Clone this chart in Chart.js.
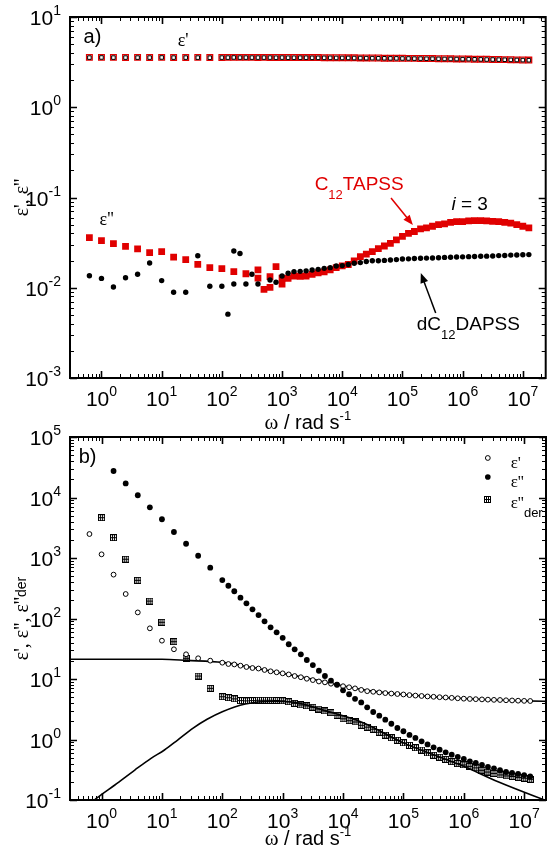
<!DOCTYPE html>
<html lang="en">

<head>
    <meta charset="UTF-8">
    <title>Dielectric spectra, C12TAPSS and dC12DAPSS</title>
    <script src="https://cdn.jsdelivr.net/npm/chart.js@4.4.0/dist/chart.umd.min.js"></script>
    <style>
        body { margin: 0; background: #fff; }
        #wrap { position: relative; width: 551px; height: 852px; }
        canvas { position: absolute; left: 0; top: 0; }
    </style>
</head>

<body>
    <div id="wrap">
        <canvas id="chartA" width="551" height="852"></canvas>
        <canvas id="chartB" width="551" height="852"></canvas>
    </div>

    <script>
        // Frequency grid in rad/s: sparse below 100, ten points per decade above.
        var omegaLow = [0.63, 1.0, 1.58, 2.51, 3.98, 6.31, 10, 15.8, 25.1, 39.8, 63.1, 100];
        var omegaHigh = [126, 158, 200, 251, 316, 398, 501, 631, 794, 1e3,
            1.26e3, 1.58e3, 2.0e3, 2.51e3, 3.16e3, 3.98e3, 5.01e3, 6.31e3, 7.94e3, 1e4,
            1.26e4, 1.58e4, 2.0e4, 2.51e4, 3.16e4, 3.98e4, 5.01e4, 6.31e4, 7.94e4, 1e5,
            1.26e5, 1.58e5, 2.0e5, 2.51e5, 3.16e5, 3.98e5, 5.01e5, 6.31e5, 7.94e5, 1e6,
            1.26e6, 1.58e6, 2.0e6, 2.51e6, 3.16e6, 3.98e6, 5.01e6, 6.31e6, 7.94e6, 1e7, 1.26e7];
        var omega = omegaLow.concat(omegaHigh);

        // Panel a) eps' of C12TAPSS (red) and dC12DAPSS (black), on the full grid
        var epsRealC12 = [3.57, 3.57, 3.57, 3.56, 3.57, 3.56, 3.57, 3.56, 3.56, 3.57, 3.55, 3.56,
            3.57, 3.57, 3.57, 3.57, 3.57, 3.56, 3.57, 3.56, 3.56, 3.56,
            3.56, 3.56, 3.55, 3.55, 3.55, 3.55, 3.54, 3.54, 3.54, 3.54,
            3.53, 3.53, 3.52, 3.52, 3.51, 3.51, 3.50, 3.50, 3.49, 3.49,
            3.48, 3.48, 3.47, 3.47, 3.46, 3.45, 3.45, 3.44, 3.43, 3.43,
            3.42, 3.41, 3.41, 3.40, 3.39, 3.38, 3.37, 3.36, 3.35, 3.34, 3.33];
        var epsRealDC12 = [3.55, 3.56, 3.55, 3.55, 3.55, 3.55, 3.56, 3.55, 3.55, 3.55, 3.54, 3.55,
            3.55, 3.56, 3.55, 3.55, 3.55, 3.55, 3.55, 3.55, 3.54, 3.55,
            3.54, 3.54, 3.54, 3.54, 3.53, 3.53, 3.53, 3.53, 3.52, 3.52,
            3.52, 3.51, 3.51, 3.50, 3.50, 3.49, 3.49, 3.48, 3.48, 3.47,
            3.47, 3.46, 3.46, 3.45, 3.45, 3.44, 3.43, 3.43, 3.42, 3.41,
            3.41, 3.40, 3.39, 3.38, 3.38, 3.37, 3.36, 3.35, 3.34, 3.33, 3.32];

        // Panel a) eps'' of C12TAPSS, irregular low-frequency part then the dense grid
        var lossC12Omega = [0.63, 1.0, 1.58, 2.51, 3.98, 6.31, 10, 15.8, 25.1, 39.8, 63.1, 100,
            158, 251, 398, 398, 501, 631, 631, 794, 1e3, 1e3].concat(omegaHigh.slice(10));
        var lossC12 = [0.0359, 0.0332, 0.0308, 0.0288, 0.0269, 0.0245, 0.0251, 0.0219, 0.0205, 0.0182, 0.0167, 0.0163,
            0.0151, 0.0143, 0.0158, 0.0128, 0.0096, 0.0101, 0.0133, 0.0171, 0.0110, 0.0128,
            0.0127, 0.0135, 0.0134, 0.0135, 0.0141, 0.0146, 0.0150, 0.0158, 0.0167, 0.0175,
            0.0181, 0.0199, 0.0221, 0.0236, 0.0251, 0.0271, 0.029, 0.031, 0.034, 0.037,
            0.040, 0.042, 0.045, 0.046, 0.048, 0.050, 0.051, 0.053, 0.054, 0.054,
            0.055, 0.0555, 0.0555, 0.055, 0.0545, 0.054, 0.053, 0.052, 0.050, 0.048, 0.046];

        // Panel a) eps'' of dC12DAPSS
        var lossDC12Omega = [0.63, 1.0, 1.58, 2.51, 3.98, 6.31, 10, 15.8, 25.1, 39.8, 63.1, 100,
            126, 158, 158, 200, 251, 316, 398, 631, 794, 1e3].concat(omegaHigh.slice(10));
        var lossDC12 = [0.0136, 0.0127, 0.0102, 0.0129, 0.0141, 0.0188, 0.0120, 0.0089, 0.0089, 0.0226, 0.0104, 0.0104,
            0.0051, 0.0110, 0.0255, 0.0240, 0.0110, 0.0141, 0.0110, 0.0122, 0.0115, 0.0135,
            0.0145, 0.0151, 0.0152, 0.0154, 0.0157, 0.0160, 0.0164, 0.0167, 0.0174, 0.0176,
            0.0181, 0.0187, 0.0190, 0.0195, 0.0199, 0.0199, 0.0201, 0.0203, 0.0205, 0.0208,
            0.0209, 0.0211, 0.0212, 0.0213, 0.0214, 0.0215, 0.0217, 0.0218, 0.0219, 0.0220,
            0.0221, 0.0222, 0.0223, 0.0224, 0.0225, 0.0227, 0.0228, 0.0230, 0.0231, 0.0232, 0.0233];

        // Panel b) on the full grid (null = no point)
        var epsReal = [2490, 1150, 531, 254, 126, 68.8, 43, 31, 25.6, 22.0, 20.1, 18.6,
            17.7, 17.4, 16.6, 15.8, 15.2, 14.9, 14.1, 13.4, 12.9, 12.4,
            11.9, 11.2, 10.7, 10.1, 9.6, 9.1, 8.8, 8.36, 8.05, 7.6,
            7.3, 7.0, 6.6, 6.3, 6.15, 6.0, 5.85, 5.75, 5.65, 5.55,
            5.42, 5.32, 5.24, 5.15, 5.08, 5.0, 4.95, 4.88, 4.8, 4.73,
            4.68, 4.64, 4.6, 4.56, 4.52, 4.5, 4.45, 4.42, 4.38, 4.35, 4.33];
        var epsLoss = [null, null, 27400, 17100, 10900, 6880, 4370, 2690, 1720, 1090, 692, 432,
            348, 282, 221, 178, 142, 114, 89.8, 71.4, 59.1, 48,
            37.5, 30.9, 25.6, 20.6, 17.0, 13.7, 11.2, 9.38, 8.06, 6.5,
            5.6, 4.7, 4.1, 3.4, 2.85, 2.48, 2.13, 1.82, 1.55, 1.37,
            1.19, 1.06, 0.933, 0.83, 0.743, 0.679, 0.614, 0.561, 0.514, 0.476,
            0.436, 0.409, 0.379, 0.351, 0.334, 0.31, 0.29, 0.28, 0.27, 0.258, 0.245];
        var epsLossDer = [null, 4640, 2170, 955, 427, 194, 86.5, 41.4, 22, 11.2, 7.0, 5.1,
            4.9, 4.7, 4.4, 4.35, 4.4, 4.45, 4.45, 4.45, 4.42, 4.36,
            4.2, 3.96, 3.72, 3.6, 3.42, 3.19, 2.96, 2.78, 2.51, 2.2,
            2.05, 1.95, 1.72, 1.6, 1.48, 1.32, 1.18, 1.07, 0.97, 0.88,
            0.8, 0.73, 0.67, 0.6, 0.55, 0.51, 0.47, 0.43, 0.4, 0.38,
            0.36, 0.34, 0.31, 0.29, 0.275, 0.26, 0.25, 0.245, 0.235, 0.229, 0.22];

        // Panel b) fit curves
        var fitRealOmega = [0.3, 10, 26, 100, 300, 1e3, 3e3, 1e4, 3e4, 1e5, 1e6, 1e7, 3e7];
        var fitReal = [21.2, 21.2, 20.3, 18.8, 15.6, 12.4, 10.0, 7.7, 6.3, 5.55, 4.75, 4.35, 4.25];
        var fitDerOmega = [0.6, 0.83, 1.66, 3.55, 6.6, 11, 18.2, 32.4, 56, 100, 240, 600, 1500, 5e3, 2e4, 1e5, 5e5, 1e6, 3.7e6, 3e7];
        var fitDer = [0.08, 0.107, 0.177, 0.313, 0.489, 0.67, 0.98, 1.53, 2.16, 2.88, 3.86, 4.3, 4.15, 3.0, 1.95, 0.88, 0.47, 0.36, 0.2, 0.088];

        // Tick label exponents
        var xTickExp = [0, 1, 2, 3, 4, 5, 6, 7];
        var yTickExpA = [-3, -2, -1, 0, 1];
        var yTickExpB = [-1, 0, 1, 2, 3, 4, 5];

        var RED = "#e00000";
        var SANS = '"Liberation Sans", Arial, Helvetica, sans-serif';
        var SERIF = '"Liberation Serif", "Times New Roman", Times, serif';

        function pts(w, v) {
            var out = [];
            w.forEach(function (x, i) {
                if (v[i] !== null) out.push({ x: x, y: v[i] });
            });
            return out;
        }

        // Draw a list of text runs ({s, f, dy}) one after the other
        function runsWidth(ctx, runs) {
            var w = 0;
            runs.forEach(function (r) { ctx.font = r.f; w += ctx.measureText(r.s).width; });
            return w;
        }
        function drawRuns(ctx, runs, x, y, align) {
            var w = runsWidth(ctx, runs);
            var cx = align === "center" ? x - w / 2 : (align === "right" ? x - w : x);
            ctx.textAlign = "left";
            ctx.textBaseline = "alphabetic";
            runs.forEach(function (r) {
                ctx.font = r.f;
                ctx.fillText(r.s, cx, y + (r.dy || 0));
                cx += ctx.measureText(r.s).width;
            });
        }
        function powRuns(e) {
            return [{ s: "10", f: "21px " + SANS }, { s: String(e), f: "14px " + SANS, dy: -10 }];
        }

        // Inward log ticks on both sides of one axis
        function drawTicks(ctx, scale, a, horizontal) {
            var lo = Math.floor(Math.log10(scale.min)), hi = Math.ceil(Math.log10(scale.max));
            for (var e = lo; e <= hi; e++) {
                for (var k = 1; k <= 9; k++) {
                    var v = k * Math.pow(10, e);
                    if (v < scale.min * 0.999 || v > scale.max * 1.001) continue;
                    var p = Math.round(scale.getPixelForValue(v)) + 0.5;
                    var len = k === 1 ? 7 : 4;
                    ctx.lineWidth = k === 1 ? 1.6 : 1;
                    ctx.beginPath();
                    if (horizontal) {
                        ctx.moveTo(p, a.bottom); ctx.lineTo(p, a.bottom - len);
                        ctx.moveTo(p, a.top); ctx.lineTo(p, a.top + len);
                    } else {
                        ctx.moveTo(a.left, p); ctx.lineTo(a.left + len, p);
                        ctx.moveTo(a.right, p); ctx.lineTo(a.right - len, p);
                    }
                    ctx.stroke();
                }
            }
        }

        function arrow(ctx, x1, y1, x2, y2, color) {
            var ang = Math.atan2(y2 - y1, x2 - x1);
            ctx.strokeStyle = color;
            ctx.fillStyle = color;
            ctx.lineWidth = 1.5;
            ctx.beginPath();
            ctx.moveTo(x1, y1);
            ctx.lineTo(x2 - 6 * Math.cos(ang), y2 - 6 * Math.sin(ang));
            ctx.stroke();
            ctx.beginPath();
            ctx.moveTo(x2, y2);
            ctx.lineTo(x2 - 10 * Math.cos(ang) + 4 * Math.sin(ang), y2 - 10 * Math.sin(ang) - 4 * Math.cos(ang));
            ctx.lineTo(x2 - 10 * Math.cos(ang) - 4 * Math.sin(ang), y2 - 10 * Math.sin(ang) + 4 * Math.cos(ang));
            ctx.closePath();
            ctx.fill();
        }

        var xTitle = [
            { s: "\u03c9", f: "21px " + SERIF },
            { s: " / rad s", f: "20px " + SANS },
            { s: "-1", f: "13px " + SANS, dy: -9 }
        ];

        // Frame, ticks, tick labels, titles and notes for one panel
        function makeDecor(cfg) {
            return {
                id: "decor",
                afterDraw: function (chart) {
                    var ctx = chart.ctx, a = chart.chartArea;
                    var sx = chart.scales.x, sy = chart.scales.y;
                    function P(w, v) { return [sx.getPixelForValue(w), sy.getPixelForValue(v)]; }
                    ctx.save();
                    ctx.strokeStyle = "#000";
                    ctx.fillStyle = "#000";
                    drawTicks(ctx, sx, a, true);
                    drawTicks(ctx, sy, a, false);
                    ctx.lineWidth = 2;
                    ctx.strokeRect(a.left, a.top, a.right - a.left, a.bottom - a.top);

                    xTickExp.forEach(function (e) {
                        drawRuns(ctx, powRuns(e), sx.getPixelForValue(Math.pow(10, e)), a.bottom + 28, "center");
                    });
                    cfg.yExp.forEach(function (e) {
                        drawRuns(ctx, powRuns(e), a.left - 9, sy.getPixelForValue(Math.pow(10, e)) + 8, "right");
                    });

                    drawRuns(ctx, xTitle, (a.left + a.right) / 2, cfg.xTitleY, "center");
                    ctx.save();
                    ctx.translate(28, (a.top + a.bottom) / 2);
                    ctx.rotate(-Math.PI / 2);
                    drawRuns(ctx, cfg.yTitle, 0, 0, "center");
                    ctx.restore();

                    cfg.notes.forEach(function (n) {
                        var p = P(n.w, n.v);
                        ctx.fillStyle = n.color || "#000";
                        drawRuns(ctx, n.runs, p[0], p[1], "left");
                    });
                    (cfg.arrows || []).forEach(function (r) {
                        var p1 = P(r.w1, r.v1), p2 = P(r.w2, r.v2);
                        arrow(ctx, p1[0], p1[1], p2[0], p2[1], r.color);
                    });
                    if (cfg.legend) cfg.legend(ctx, P);
                    ctx.restore();
                }
            };
        }

        function baseOptions(pad, xmin, xmax, ymin, ymax) {
            return {
                responsive: false,
                animation: false,
                devicePixelRatio: 1,
                events: [],
                layout: { padding: pad },
                scales: {
                    x: { type: "logarithmic", display: false, min: xmin, max: xmax },
                    y: { type: "logarithmic", display: false, min: ymin, max: ymax }
                },
                plugins: { legend: { display: false }, tooltip: { enabled: false } }
            };
        }

        // Marker for eps''_der: small boxed grid
        var derMark = document.createElement("canvas");
        derMark.width = 7;
        derMark.height = 7;
        var g = derMark.getContext("2d");
        g.fillStyle = "#000";
        [0, 2, 4, 6].forEach(function (c) { g.fillRect(c, 0, 1, 7); });
        [0, 3, 6].forEach(function (r) { g.fillRect(0, r, 7, 1); });

        var epsFont = "18px " + SERIF;
        var annFont = "19px " + SANS;
        var subFont = "13px " + SANS;

        // Panel a)
        new Chart(document.getElementById("chartA"), {
            type: "scatter",
            data: {
                datasets: [
                    { data: pts(omega, epsRealDC12), pointStyle: "rect", pointRadius: 2.5, borderColor: "#000", backgroundColor: "rgba(0,0,0,0)", borderWidth: 1, order: 0 },
                    { data: pts(omega, epsRealC12), pointStyle: "rect", pointRadius: 4, borderColor: RED, backgroundColor: "#fff", borderWidth: 1.3, order: 1 },
                    { data: pts(lossDC12Omega, lossDC12), pointStyle: "circle", pointRadius: 2.7, borderWidth: 0, backgroundColor: "#000", order: 2 },
                    { data: pts(lossC12Omega, lossC12), pointStyle: "rect", pointRadius: 4.8, borderWidth: 0, backgroundColor: RED, order: 3 }
                ]
            },
            options: baseOptions({ left: 70, right: 3, top: 17, bottom: 852 - 378 }, 0.32, 2.4e7, 1e-3, 10),
            plugins: [makeDecor({
                yExp: yTickExpA,
                xTitleY: 429,
                yTitle: [{ s: "\u03b5', \u03b5''", f: "20px " + SERIF }],
                notes: [
                    { w: 0.505, v: 5.15, runs: [{ s: "a)", f: "20px " + SANS }] },
                    { w: 18.5, v: 4.77, runs: [{ s: "\u03b5'", f: epsFont }] },
                    { w: 0.93, v: 0.0496, runs: [{ s: "\u03b5''", f: epsFont }] },
                    { w: 3480, v: 0.121, color: RED, runs: [{ s: "C", f: annFont }, { s: "12", f: subFont, dy: 9 }, { s: "TAPSS", f: annFont }] },
                    { w: 653000, v: 0.0726, runs: [{ s: "i", f: "italic " + annFont }, { s: " = 3", f: annFont }] },
                    { w: 173000, v: 0.0034, runs: [{ s: "dC", f: annFont }, { s: "12", f: subFont, dy: 9 }, { s: "DAPSS", f: annFont }] }
                ],
                arrows: [
                    { w1: 64600, v1: 0.0986, w2: 149000, v2: 0.0496, color: RED },
                    { w1: 357000, v1: 0.00525, w2: 202000, v2: 0.01455, color: "#000" }
                ]
            })]
        });

        // Panel b)
        new Chart(document.getElementById("chartB"), {
            type: "scatter",
            data: {
                datasets: [
                    { data: pts(omega, epsLoss), pointStyle: "circle", pointRadius: 2.9, borderWidth: 0, backgroundColor: "#000", order: 0 },
                    { data: pts(omega, epsReal), pointStyle: "circle", pointRadius: 2.4, borderWidth: 1, borderColor: "#000", backgroundColor: "#fff", order: 1 },
                    { data: pts(omega, epsLossDer), pointStyle: derMark, pointRadius: 3, order: 2 },
                    { data: pts(fitRealOmega, fitReal), showLine: true, cubicInterpolationMode: "monotone", pointRadius: 0, borderColor: "#000", borderWidth: 1.6, order: 5 },
                    { data: pts(fitDerOmega, fitDer), showLine: true, cubicInterpolationMode: "monotone", pointRadius: 0, borderColor: "#000", borderWidth: 1.6, order: 6 }
                ]
            },
            options: baseOptions({ left: 70, right: 3, top: 437, bottom: 852 - 800 }, 0.321, 2.3e7, 0.1, 1e5),
            plugins: [makeDecor({
                yExp: yTickExpB,
                xTitleY: 845,
                yTitle: [{ s: "\u03b5', \u03b5'', \u03b5''", f: "20px " + SERIF }, { s: "der", f: "14px " + SANS, dy: -2 }],
                notes: [
                    { w: 0.418, v: 37200, runs: [{ s: "b)", f: "20px " + SANS }] }
                ],
                legend: function (ctx, P) {
                    var rows = [45000, 21800, 9440];
                    var symX = P(2.5e6, 1)[0], labX = P(5.97e6, 1)[0];
                    var y0 = P(1, rows[0])[1], y1 = P(1, rows[1])[1], y2 = P(1, rows[2])[1];
                    ctx.fillStyle = "#000";
                    ctx.strokeStyle = "#000";
                    ctx.lineWidth = 1;
                    ctx.beginPath(); ctx.arc(symX, y0, 2.4, 0, 2 * Math.PI); ctx.stroke();
                    ctx.beginPath(); ctx.arc(symX, y1, 2.8, 0, 2 * Math.PI); ctx.fill();
                    ctx.drawImage(derMark, Math.round(symX - 3.5), Math.round(y2 - 3.5));
                    drawRuns(ctx, [{ s: "\u03b5'", f: "17px " + SERIF }], labX, y0 + 10, "left");
                    drawRuns(ctx, [{ s: "\u03b5''", f: "17px " + SERIF }], labX, y1 + 10, "left");
                    drawRuns(ctx, [{ s: "\u03b5''", f: "17px " + SERIF }, { s: "der", f: "13px " + SANS, dy: 9 }], labX, y2 + 9, "left");
                }
            })]
        });
    </script>
</body>

</html>
